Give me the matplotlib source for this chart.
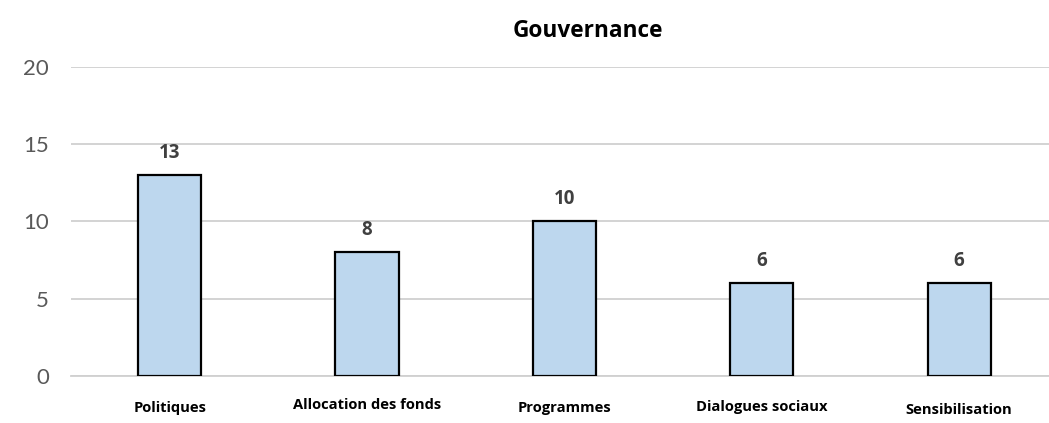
import matplotlib
matplotlib.use("Agg")
import matplotlib.pyplot as plt
import matplotlib.transforms as mtransforms

categories = ["Politiques", "Allocation des fonds", "Programmes", "Dialogues sociaux", "Sensibilisation"]
values = [13, 8, 10, 6, 6]
y_ticks = [0, 5, 10, 15, 20]

BOLD_FONT = "Open Sans"

fig = plt.figure(figsize=(10.49, 4.23), dpi=100)
ax = fig.add_axes([71 / 1049, 1 - 376 / 423, 1 - 71 / 1049, (376 - 67) / 423])

x = list(range(len(categories)))
ax.bar(x, values, width=0.32, color="#bdd7ee", edgecolor="black", linewidth=1.6, zorder=3)

for xi, v in zip(x, values):
    ax.annotate(str(v), (xi, v), xytext=(0, 9), textcoords="offset points",
                ha="center", va="bottom", fontsize=13.5, fontweight="bold",
                color="#404040", family=BOLD_FONT)

ax.set_xlim(-0.5, 4.455)
ax.set_ylim(0, 20)
ax.set_yticks(y_ticks)
ax.set_yticklabels([str(t) for t in y_ticks], fontsize=16, color="#595959", family="Lato")
ax.set_xticks(x)
ax.set_xticklabels(categories, fontsize=10.6, fontweight="bold", color="black", family=BOLD_FONT)
ax.tick_params(axis="both", length=0)
ax.tick_params(axis="y", pad=16)
ax.tick_params(axis="x", pad=18)

# small vertical shifts of the category labels
shifts = [0, 3, 0, 1, -1.5]
for lab, dy in zip(ax.get_xticklabels(), shifts):
    lab.set_transform(lab.get_transform() + mtransforms.ScaledTranslation(0, dy / 100, fig.dpi_scale_trans))

ax.grid(axis="y", color="#d0d0d0", linewidth=1.3, zorder=0)
for s in ["left", "right", "top"]:
    ax.spines[s].set_visible(False)
ax.spines["bottom"].set_color("#d0d0d0")
ax.spines["bottom"].set_linewidth(1.3)

fig.text(588 / 1049, 1 - 31 / 423, "Gouvernance", ha="center", va="center",
         fontsize=16.3, fontweight="bold", color="black", family=BOLD_FONT)

fig.savefig("out.png", dpi=100)
